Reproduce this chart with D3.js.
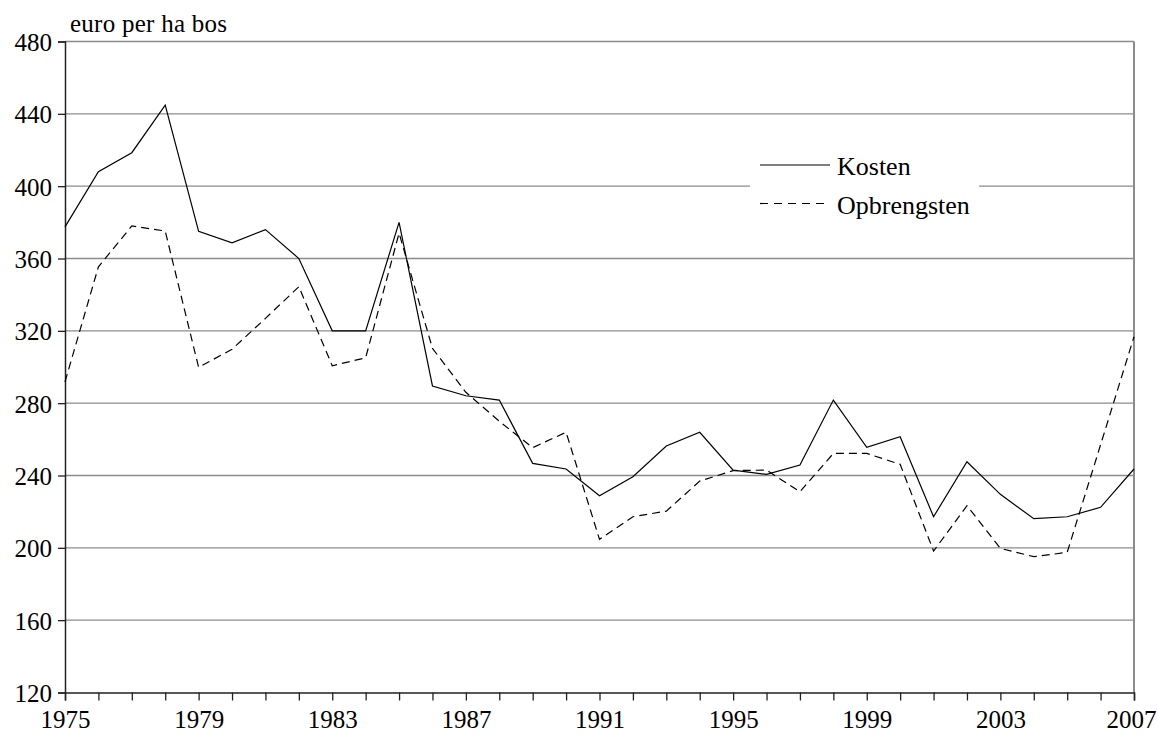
<!DOCTYPE html>
<html>
<head>
<meta charset="utf-8">
<script src="https://cdn.jsdelivr.net/npm/d3@7"></script>
<style>
  html, body { margin: 0; padding: 0; background: #fff; }
  svg text { font-family: "Liberation Serif", "Times New Roman", serif; fill: #000; }
</style>
</head>
<body>
<svg id="chart" width="1158" height="742"></svg>
<script>
const years = d3.range(1975, 2008);
const kosten = [377.5, 408, 418.5, 444.8, 375, 368.7, 376, 360, 320, 320,
  380, 289.5, 284.1, 281.7, 246.7, 243.6, 228.8, 239.3, 256.3, 263.9,
  243, 240.6, 245.8, 281.7, 255.6, 261.4, 217.2, 247.6, 229.6, 216.1,
  217.2, 222.4, 243.6];
const opbrengsten = [291.8, 355.4, 378, 375.2, 299.8, 309.8, 326.9, 344.4, 300.7, 305.1,
  374, 310.3, 286, 270, 255.4, 263.9, 204.7, 217.2, 220.3, 236.9,
  242.7, 243, 231, 252.2, 252.2, 246.2, 198.2, 223.3, 199.7, 195.1,
  197.5, 257, 316.7];
const yTicks = [120, 160, 200, 240, 280, 320, 360, 400, 440, 480];
const xLabels = [1975, 1979, 1983, 1987, 1991, 1995, 1999, 2003, 2007];
const yTitle = "euro per ha bos";
const seriesNames = ["Kosten", "Opbrengsten"];

const FONT = "Liberation Serif, Times New Roman, serif";
const svg = d3.select("#chart");
const pLeft = 65, pRight = 1134, pTop = 41.5, pBottom = 692.5;

const x = d3.scaleLinear().domain([1975, 2007]).range([pLeft, pRight]);
const y = d3.scaleLinear().domain([120, 480]).range([pBottom, pTop]);

// gridlines
svg.append("g").selectAll("line").data(yTicks.filter(d => d > 120)).join("line")
  .attr("x1", pLeft).attr("x2", pRight)
  .attr("y1", d => y(d)).attr("y2", d => y(d))
  .attr("stroke", "#8c8c8c").attr("stroke-width", 1.3);

// right border
svg.append("line").attr("x1", pRight).attr("x2", pRight).attr("y1", pTop).attr("y2", pBottom)
  .attr("stroke", "#8c8c8c").attr("stroke-width", 2);

// y axis
const yAxis = d3.axisLeft(y).tickValues(yTicks).tickSize(7).tickFormat(d3.format("d"));
const gy = svg.append("g").attr("transform", `translate(${pLeft},0)`).call(yAxis);
gy.attr("font-family", FONT).attr("font-size", 25);
gy.select(".domain").attr("stroke", "#222").attr("stroke-width", 1.5);
gy.selectAll(".tick line").attr("stroke", "#222").attr("stroke-width", 1.3);
gy.selectAll(".tick text")
  .attr("font-family", FONT).attr("font-size", 25)
  .attr("x", -13).attr("dy", 9).attr("fill", "#000");

// x axis
const xAxis = d3.axisBottom(x).tickValues(years).tickSize(8)
  .tickFormat(d => xLabels.includes(d) ? String(d) : "");
const gx = svg.append("g").attr("transform", `translate(0,${pBottom})`).call(xAxis);
gx.attr("font-family", FONT).attr("font-size", 25);
gx.select(".domain").attr("stroke", "#222").attr("stroke-width", 1.5);
gx.selectAll(".tick line").attr("stroke", "#222").attr("stroke-width", 1.3);
gx.selectAll(".tick text")
  .attr("font-family", FONT).attr("font-size", 25)
  .attr("y", 35).attr("dy", 0).attr("fill", "#000");
gx.selectAll(".tick").filter(d => d === 2007).select("text").attr("dx", -3);

// y title
svg.append("text").attr("x", 70).attr("y", 31.5)
  .attr("font-family", FONT).attr("font-size", 25)
  .attr("textLength", 157).attr("lengthAdjust", "spacing").text(yTitle);

// lines
const line = d3.line().x((d, i) => x(years[i])).y(d => y(d));
svg.append("path").datum(kosten).attr("d", line)
  .attr("fill", "none").attr("stroke", "#000").attr("stroke-width", 1.2)
  .attr("stroke-linejoin", "miter");
svg.append("path").datum(opbrengsten).attr("d", line)
  .attr("fill", "none").attr("stroke", "#000").attr("stroke-width", 1.2)
  .attr("stroke-dasharray", "8,5");

// legend
const lg = svg.append("g").attr("font-family", FONT).attr("font-size", 26);
lg.append("rect").attr("x", 750).attr("y", 148).attr("width", 229).attr("height", 80)
  .attr("fill", "#fff");
lg.append("line").attr("x1", 760).attr("x2", 830).attr("y1", 165).attr("y2", 165)
  .attr("stroke", "#000").attr("stroke-width", 1.2);
lg.append("text").attr("x", 837).attr("y", 175).text(seriesNames[0]);
lg.append("line").attr("x1", 760).attr("x2", 830).attr("y1", 203.5).attr("y2", 203.5)
  .attr("stroke", "#000").attr("stroke-width", 1.2).attr("stroke-dasharray", "8,6");
lg.append("text").attr("x", 837).attr("y", 214).text(seriesNames[1]);
</script>
</body>
</html>
